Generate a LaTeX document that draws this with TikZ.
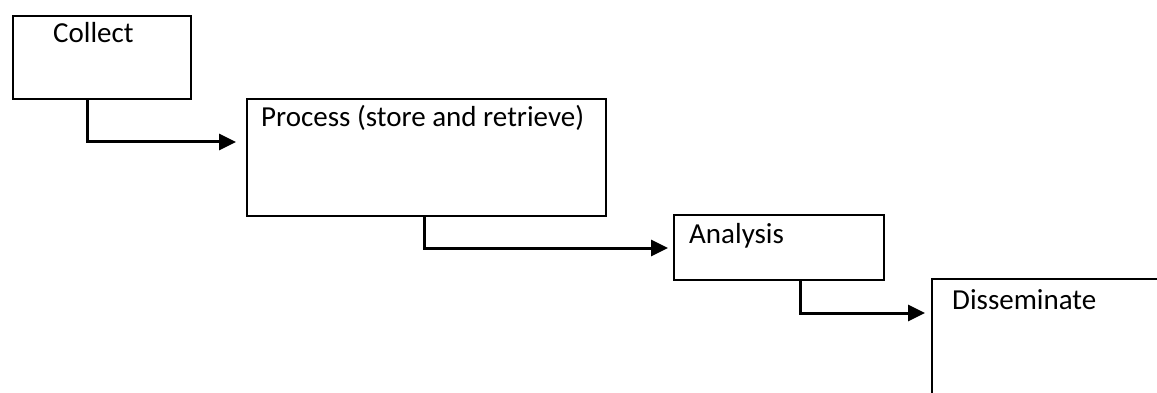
\documentclass[tikz,border=0pt]{standalone}
\usepackage{fontspec}
\setmainfont{Carlito}
\usetikzlibrary{arrows.meta}

\tikzset{
    stage/.style = {draw, line width=2pt, rectangle, anchor=north west, inner sep=0pt},
    caption/.style = {anchor=base west, inner sep=0pt, font=\fontsize{29}{35}\selectfont},
    flow/.style = {line width=3pt, -{Triangle[length=17pt,width=16pt]}}
}

\begin{document}
\begin{tikzpicture}[x=1pt, y=-1pt, color = {black}]
    \clip (0,0) rectangle (1157,393);
    \fill[white] (0,0) rectangle (1157,393);
    % the four boxes
    \node[stage, minimum width=178pt, minimum height=83pt] (collect) at (12,15) {};
    \node[caption] (collecttxt) at (53,43) {Collect};
    \node[stage, minimum width=359pt, minimum height=117pt] (process) at (246,98) {};
    \node[caption] (processtxt) at (261,127) {Process (store and retrieve)};
    \node[stage, minimum width=210pt, minimum height=65pt] (analysis) at (673,214) {};
    \node[caption] (analysistxt) at (689,243) {Analysis};
    \node[stage, minimum width=300pt, minimum height=200pt] (dissem) at (931,278) {};
    \node[caption] (dissemtxt) at (952,309) {Disseminate};
    % connectors
    \draw[flow] ([xshift=75pt]collect.south west) |- ([xshift=-10pt,yshift=-44pt]process.north west);
    \draw[flow] ([xshift=178pt]process.south west) |- ([xshift=-5pt,yshift=-34pt]analysis.north west);
    \draw[flow] ([xshift=127pt]analysis.south west) |- ([xshift=-6pt,yshift=-35pt]dissem.north west);
\end{tikzpicture}
\end{document}
